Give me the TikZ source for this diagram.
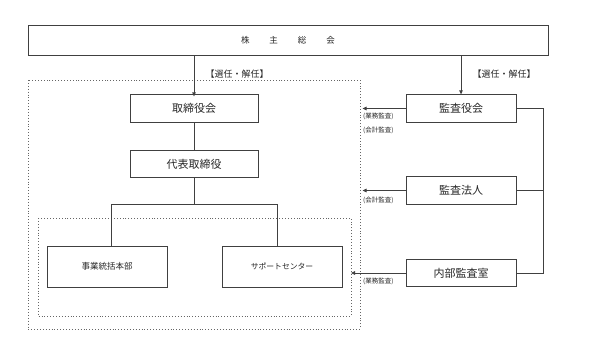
\documentclass[tikz,border=0pt]{standalone}
\usepackage{fontspec}
\newfontfamily\jp{Noto Sans CJK JP}
\usetikzlibrary{arrows.meta}
\begin{document}
\begin{tikzpicture}[x=1pt,y=-1pt,
  box/.style={draw=black!75, line width=0.8pt, inner sep=0pt, font=\jp\fontsize{11}{11}\selectfont, text=black!85},
  smallbox/.style={box, minimum width=120, minimum height=41, font=\jp\fontsize{8.5}{8.5}\selectfont},
  rbox/.style={box, minimum width=110, minimum height=27.5},
  cbox/.style={box, minimum width=128, minimum height=27.5},
  conn/.style={draw=black!75, line width=0.8pt},
  arr/.style={conn, -{Triangle[length=4pt,width=3.6pt]}},
  dotbox/.style={draw=black!60, line width=0.9pt, dotted},
  lab/.style={font=\jp\fontsize{9}{9}\selectfont, inner sep=0pt, text=black!85},
  note/.style={font=\jp\fontsize{6.5}{6.5}\selectfont, inner sep=0pt, anchor=west, text=black!85}]
\useasboundingbox (0,0) rectangle (609,356);
% dotted groups
\draw[dotbox] (28,80) rectangle (360,329);
\draw[dotbox] (38,218) rectangle (351,316);
% nodes
\node[box, minimum width=520, minimum height=30, font=\jp\fontsize{8.5}{8.5}\selectfont] (gm) at (288,40)
  {株\hspace{20pt}主\hspace{20pt}総\hspace{20pt}会};
\node[cbox] (bod) at (194,108.5) {取締役会};
\node[cbox] (rep) at (194,164) {代表取締役};
\node[smallbox] (jig) at (107,266.5) {事業統括本部};
\node[smallbox, font=\jp\fontsize{7.8}{7.8}\selectfont] (sup) at (282,266.5) {サポートセンター};
\node[rbox] (kyk) at (461,108.5) {監査役会};
\node[rbox] (hoj) at (461,190.5) {監査法人};
\node[rbox] (nai) at (461,273) {内部監査室};
% labels
\node[lab] (l1) at (237,74) {【選任・解任】};
\node[lab] (l2) at (504,74) {【選任・解任】};
\node[note] (n1) at (363,116.5) {(業務監査)};
\node[note] (n2) at (363,130.5) {(会計監査)};
\node[note] (n3) at (363,200) {(会計監査)};
\node[note] (n4) at (363,281.5) {(業務監査)};
% coordinates
\coordinate (t1) at (362.5,108.5);
\coordinate (t2) at (362.5,190.5);
\coordinate (t3) at (351,273);
\coordinate (j) at (194,204);
\coordinate (rv) at (543,108.5);
% connectors
\draw[arr] (gm.south -| bod.north) -- ([yshift=-2]bod.north);
\draw[arr] (gm.south -| kyk.north) -- (kyk.north);
\draw[conn] (bod.south) -- (rep.north);
\draw[conn] (rep.south) -- (j);
\draw[conn] (j) -| ([xshift=4]jig.north);
\draw[conn] (j) -| ([xshift=-5]sup.north);
\draw[arr] (kyk.west) -- (t1);
\draw[arr] (hoj.west) -- (t2);
\draw[arr] (nai.west) -- (t3);
\draw[conn] (kyk.east) -- (rv) |- (nai.east);
\draw[conn] (hoj.east) -- (hoj.east -| rv);
\end{tikzpicture}
\end{document}
